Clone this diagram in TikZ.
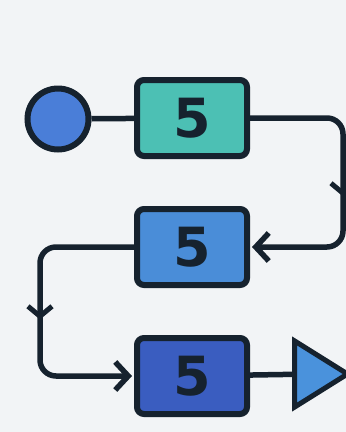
\documentclass[tikz,border=0pt]{standalone}
\usepackage{fontspec}
\newfontfamily\digitfont{DejaVu Sans}
\usetikzlibrary{arrows.meta,decorations.markings,shapes.geometric}
\definecolor{bg}{HTML}{F2F4F6}
\definecolor{ink}{HTML}{16222E}
\definecolor{tealbox}{HTML}{4CC0B4}
\definecolor{bluebox}{HTML}{4A8DD8}
\definecolor{darkbox}{HTML}{3A5DC0}
\definecolor{dotblue}{HTML}{4A7ED8}
\definecolor{triblue}{HTML}{4A92DC}
\begin{document}
\begin{tikzpicture}[x=1pt,y=-1pt,
  stage/.style={draw=ink,line width=6pt,rounded corners=7pt,minimum width=110pt,minimum height=76pt,inner sep=0pt,
    font=\digitfont\bfseries\fontsize{54}{54}\selectfont,text=ink},
  wire/.style={draw=ink,line width=5.5pt,rounded corners=16pt},
  tip/.style={-{Straight Barb[length=13pt,width=28pt,line width=5.5pt]}},
  midarrow/.style={postaction={decorate},decoration={markings,mark=at position #1 with {\arrow{Straight Barb[length=10pt,width=24pt,line width=5pt]}}}}]
\fill[bg] (0,0) rectangle (346,432);
\clip (0,0) rectangle (346,432);
\node[circle,draw=ink,line width=6pt,fill=dotblue,minimum size=61pt,inner sep=0pt] (start) at (58,119) {};
\node[stage,fill=tealbox] (s1) at (192,118) {5};
\node[stage,fill=bluebox] (s2) at (192,247) {5};
\node[stage,fill=darkbox] (s3) at (192,376) {5};
\node[draw=ink,line width=5pt,fill=triblue,isosceles triangle,isosceles triangle apex angle=64,minimum height=53pt,inner sep=0pt,anchor=west,shape border rotate=0] (out) at (292,374) {};
\coordinate (r1) at (343,118);
\coordinate (r2) at (343,247);
\coordinate (l1) at (40,247);
\coordinate (l2) at (40,376);
\draw[ink,line width=5.5pt] (start) -- (s1);
\draw[ink,line width=5.5pt] (s3) -- (out);
\draw[wire,tip,midarrow=0.55] (s1.east) -- (r1) -- (r2) -- ([xshift=2pt]s2.east);
\draw[wire,tip,midarrow=0.53] (s2.west) -- (l1) -- (l2) -- ([xshift=-2pt]s3.west);
\end{tikzpicture}
\end{document}
